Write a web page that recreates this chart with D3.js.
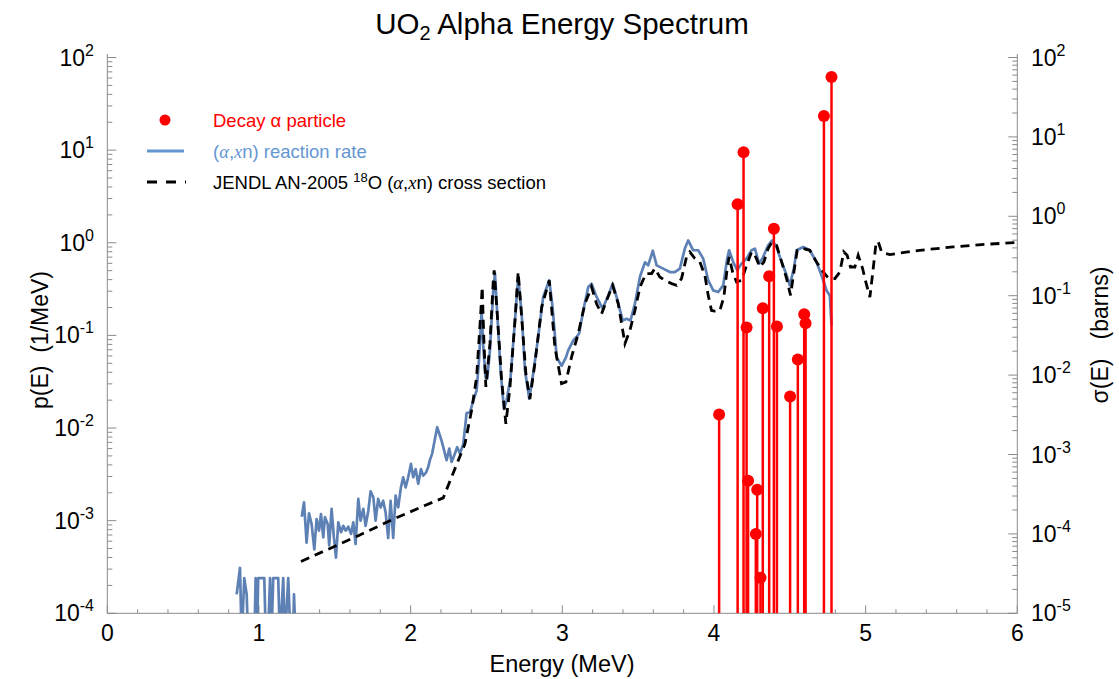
<!DOCTYPE html>
<html>
<head>
<meta charset="utf-8">
<script src="https://cdn.jsdelivr.net/npm/d3@7"></script>
<style>
body { margin: 0; background: #fff; }
text { font-family: "Liberation Sans", Arial, sans-serif; }
</style>
</head>
<body>
<div class="spectrum"></div>
<script>
// decay alpha lines (MeV, 1/MeV)
var alphaE = [4.034, 4.156, 4.195, 4.215, 4.225, 4.276, 4.285, 4.307, 4.322, 4.364,
              4.395, 4.415, 4.502, 4.553, 4.595, 4.604, 4.725, 4.775];
var alphaP = [0.014, 2.6, 9.5, 0.122, 0.0027, 0.00072, 0.00216, 0.000242, 0.196, 0.435,
              1.42, 0.125, 0.0219, 0.055, 0.169, 0.135, 23.3, 61.5];

// (a,xn) reaction rate, low-statistics part below 1.25 MeV
var rateLowE = [0.853, 0.875, 0.886, 0.903, 0.919, 0.929, 0.970, 0.978, 0.987, 0.995,
                1.035, 1.046, 1.059, 1.073, 1.082, 1.094, 1.127, 1.138, 1.160, 1.171,
                1.193, 1.209, 1.224, 1.231, 1.242];
var rateLowP = [1.6e-4, 3.1e-4, 5e-5, 2.4e-4, 1.6e-4, 5e-5, 5e-5, 2.4e-4, 5e-5, 2.4e-4,
                2.4e-4, 5e-5, 5e-5, 2.4e-4, 5e-5, 2.4e-4, 2.4e-4, 5e-5, 2.4e-4, 5e-5,
                2.4e-4, 5e-5, 5e-5, 1.6e-4, 5e-5];

// (a,xn) reaction rate, main part
var rateE = [1.282, 1.297, 1.314, 1.330, 1.347, 1.365, 1.380, 1.396, 1.409, 1.424,
             1.435, 1.453, 1.463, 1.479, 1.494, 1.508, 1.523, 1.541, 1.556, 1.572,
             1.589, 1.607, 1.622, 1.637, 1.655, 1.670, 1.688, 1.703, 1.721, 1.736,
             1.754, 1.769, 1.786, 1.802, 1.819, 1.835, 1.852, 1.868, 1.885, 1.901,
             1.918, 1.936, 1.951, 1.967, 1.984, 2.002, 2.017, 2.033, 2.050, 2.068,
             2.083, 2.101, 2.116, 2.127, 2.142, 2.175, 2.204, 2.237, 2.255, 2.270,
             2.292, 2.307, 2.325, 2.347, 2.369, 2.391, 2.413, 2.435, 2.452, 2.468,
             2.479, 2.494, 2.505, 2.523, 2.545, 2.556, 2.571, 2.593, 2.615, 2.633,
             2.659, 2.688, 2.709, 2.732, 2.754, 2.782, 2.808, 2.841, 2.874, 2.914,
             2.936, 2.963, 2.995, 3.024, 3.039, 3.072, 3.094, 3.111, 3.138, 3.171,
             3.193, 3.226, 3.266, 3.303, 3.332, 3.358, 3.398, 3.424, 3.450, 3.479,
             3.512, 3.545, 3.566, 3.597, 3.622, 3.665, 3.709, 3.742, 3.775, 3.808,
             3.830, 3.863, 3.896, 3.929, 3.962, 3.995, 4.028, 4.061, 4.087, 4.100,
             4.127, 4.153, 4.182, 4.215, 4.248, 4.270, 4.298, 4.324, 4.357, 4.384,
             4.413, 4.435, 4.479, 4.500, 4.527, 4.545, 4.588, 4.632, 4.676, 4.709,
             4.742, 4.764, 4.775];
var rateP = [1.10e-3, 1.58e-3, 5.8e-4, 1.20e-3, 9.2e-4, 4.9e-4, 1.04e-3, 7.8e-4, 1.18e-3, 6.6e-4,
             1.09e-3, 9.2e-4, 5.4e-4, 1.34e-3, 6.6e-4, 4.0e-4, 9.6e-4, 7.5e-4, 8.8e-4, 7.8e-4,
             8.6e-4, 7.2e-4, 9.6e-4, 5.6e-4, 1.72e-3, 1.0e-3, 1.34e-3, 8.8e-4, 1.28e-3, 2.07e-3,
             1.79e-3, 1.0e-3, 1.72e-3, 1.39e-3, 1.64e-3, 1.23e-3, 6.5e-4, 1.64e-3, 6.5e-4, 1.86e-3,
             1.39e-3, 2.29e-3, 2.94e-3, 2.29e-3, 2.94e-3, 4.1e-3, 2.94e-3, 3.6e-3, 2.5e-3, 3.6e-3,
             3.06e-3, 3.3e-3, 3.8e-3, 4.5e-3, 5.3e-3, 1.02e-2, 7.3e-3, 4.5e-3, 6.0e-3, 4.3e-3,
             5.3e-3, 6.2e-3, 5.3e-3, 6.7e-3, 1.45e-2, 1.48e-2, 1.98e-2, 2.54e-2, 5.8e-2, 0.186,
             7.5e-2, 3.54e-2, 3.4e-2, 6.9e-2, 0.306, 0.465, 0.172, 4.2e-2, 1.61e-2, 1.98e-2,
             3.54e-2, 0.145, 0.427, 0.172, 4.2e-2, 2.07e-2, 3.86e-2, 9.6e-2, 0.26, 0.394,
             0.202, 5.8e-2, 4.7e-2, 5.8e-2, 6.9e-2, 8.8e-2, 9.6e-2, 0.105, 0.186, 0.333,
             0.362, 0.26, 0.195, 0.27, 0.362, 0.26, 0.145, 0.151, 0.145, 0.22,
             0.43, 0.615, 0.57, 0.82, 0.57, 0.526, 0.483, 0.483, 0.526, 0.865,
             1.06, 0.83, 0.83, 0.675, 0.394, 0.306, 0.294, 0.347, 0.675, 0.83,
             0.62, 0.505, 0.596, 0.675, 0.83, 0.865, 0.596, 0.70, 0.94, 1.06,
             0.90, 0.70, 0.446, 0.347, 0.53, 0.83, 0.90, 0.83, 0.62, 0.446,
             0.306, 0.27, 0.128];

// JENDL AN-2005 18O (a,xn) cross section (MeV, barns)
var xsE = [1.277, 1.479, 1.655, 1.875, 2.094, 2.215, 2.270, 2.314, 2.358, 2.402,
           2.435, 2.462, 2.472, 2.483, 2.496, 2.523, 2.545, 2.551, 2.571, 2.600,
           2.628, 2.655, 2.688, 2.709, 2.732, 2.760, 2.786, 2.819, 2.864, 2.914,
           2.951, 2.995, 3.024, 3.061, 3.105, 3.149, 3.193, 3.226, 3.259, 3.292,
           3.332, 3.369, 3.413, 3.446, 3.479, 3.512, 3.551, 3.589, 3.610, 3.643,
           3.676, 3.721, 3.754, 3.786, 3.819, 3.841, 3.874, 3.907, 3.940, 3.962,
           3.984, 4.006, 4.039, 4.065, 4.087, 4.100, 4.123, 4.149, 4.182, 4.215,
           4.248, 4.270, 4.303, 4.329, 4.357, 4.384, 4.413, 4.446, 4.479, 4.505,
           4.527, 4.549, 4.588, 4.632, 4.676, 4.720, 4.753, 4.797, 4.830, 4.856,
           4.878, 4.900, 4.929, 4.951, 4.980, 5.001, 5.028, 5.050, 5.067, 5.082,
           5.105, 5.127, 5.160, 5.357, 5.577, 5.797, 6.0];
var xsS = [4.5e-5, 6.7e-5, 9.5e-5, 1.50e-4, 2.28e-4, 2.84e-4, 5.2e-4, 8.4e-4, 1.36e-3, 3.6e-3,
           9.4e-3, 5.9e-2, 0.129, 2.74e-2, 7.1e-3, 2.49e-2, 0.156, 0.209, 5.9e-2, 8.6e-3,
           2.44e-3, 7.1e-3, 4.9e-2, 0.199, 5.4e-2, 1.04e-2, 5.0e-3, 1.39e-2, 7.2e-2, 0.156,
           2.26e-2, 7.8e-3, 8.2e-3, 1.69e-2, 3.33e-2, 7.9e-2, 0.129, 7.9e-2, 5.9e-2, 8.7e-2,
           0.135, 7.9e-2, 2.49e-2, 3.66e-2, 6.5e-2, 0.128, 0.19, 0.19, 0.22, 0.172,
           0.156, 0.142, 0.135, 0.164, 0.308, 0.356, 0.294, 0.266, 0.181, 0.101,
           6.5e-2, 6.4e-2, 6.5e-2, 9.6e-2, 0.22, 0.308, 0.199, 0.149, 0.156, 0.241,
           0.356, 0.323, 0.23, 0.266, 0.393, 0.475, 0.432, 0.266, 0.164, 0.101,
           0.199, 0.373, 0.393, 0.373, 0.266, 0.199, 0.168, 0.164, 0.199, 0.356,
           0.323, 0.23, 0.23, 0.323, 0.22, 0.149, 0.096, 0.22, 0.432, 0.485,
           0.356, 0.34, 0.33, 0.373, 0.411, 0.445, 0.468];

var xTicks = [0, 1, 2, 3, 4, 5, 6];

var width = 1119, height = 679;
var plotLeft = 107.3, plotRight = 1017.3, plotTop = 57.5, plotBottom = 613.3;

var x = d3.scaleLinear().domain([0, 6]).range([plotLeft, plotRight]);
var yL = d3.scaleLog().domain([1e-4, 1e2]).range([plotBottom, plotTop]);
var yR = d3.scaleLog().domain([1e-5, 1e2]).range([plotBottom, plotTop]);

var svg = d3.select(".spectrum").append("svg")
    .attr("width", width)
    .attr("height", height);

svg.append("defs").append("clipPath").attr("id", "plotclip")
    .append("rect")
    .attr("x", plotLeft).attr("y", 50)
    .attr("width", plotRight - plotLeft).attr("height", plotBottom - 50);

var axisColor = "#8a8a8a";
var ax = svg.append("g").attr("stroke", axisColor).attr("stroke-width", 1);

ax.append("line").attr("x1", plotLeft).attr("x2", plotLeft).attr("y1", plotBottom).attr("y2", 54);
ax.append("line").attr("x1", plotRight).attr("x2", plotRight).attr("y1", plotBottom).attr("y2", 54);
ax.append("line").attr("x1", plotLeft).attr("x2", plotRight).attr("y1", plotBottom).attr("y2", plotBottom);

function isDecade(v) {
    var l = Math.log10(v);
    return Math.abs(l - Math.round(l)) < 1e-9;
}

// left log ticks (inward)
ax.selectAll(".tl").data(yL.ticks()).enter().append("line")
    .attr("x1", plotLeft).attr("x2", d => plotLeft + (isDecade(d) ? 9 : 5))
    .attr("y1", d => yL(d)).attr("y2", d => yL(d));
// right log ticks (inward)
ax.selectAll(".tr").data(yR.ticks()).enter().append("line")
    .attr("x1", plotRight).attr("x2", d => plotRight - (isDecade(d) ? 9 : 5))
    .attr("y1", d => yR(d)).attr("y2", d => yR(d));
// bottom ticks
ax.selectAll(".tb").data(d3.range(0, 30.5).map(i => i / 5)).enter().append("line")
    .attr("x1", d => x(d)).attr("x2", d => x(d))
    .attr("y1", plotBottom).attr("y2", (d, i) => plotBottom - (i % 5 === 0 ? 8 : 4));

function powLabel(sel, v) {
    sel.append("tspan").text("10");
    sel.append("tspan").attr("dy", -10).attr("font-size", 16)
        .text(String(Math.round(Math.log10(v))));
}

yL.ticks().filter(isDecade).forEach(function (v) {
    var t = svg.append("text").attr("x", 94).attr("y", yL(v) + 8)
        .attr("text-anchor", "end").attr("font-size", 23).attr("fill", "#000");
    powLabel(t, v);
});
yR.ticks().filter(isDecade).forEach(function (v) {
    var t = svg.append("text").attr("x", 1031).attr("y", yR(v) + 8)
        .attr("text-anchor", "start").attr("font-size", 23).attr("fill", "#000");
    powLabel(t, v);
});
svg.selectAll(".xl").data(xTicks).enter().append("text")
    .attr("x", d => x(d)).attr("y", 641)
    .attr("text-anchor", "middle").attr("font-size", 23)
    .text(d => d);

// titles
var title = svg.append("text").attr("x", 562).attr("y", 34)
    .attr("text-anchor", "middle").attr("font-size", 29.5);
title.append("tspan").text("UO");
title.append("tspan").attr("dy", 6).attr("font-size", 20).text("2");
title.append("tspan").attr("dy", -6).text(" Alpha Energy Spectrum");

svg.append("text").attr("x", 562).attr("y", 672)
    .attr("text-anchor", "middle").attr("font-size", 23.5).text("Energy (MeV)");
svg.append("text").attr("transform", "translate(48,340) rotate(-90)")
    .attr("text-anchor", "middle").attr("font-size", 23).text("p(E)\u00a0\u00a0(1/MeV)");
svg.append("text").attr("transform", "translate(1108,335) rotate(-90)")
    .attr("text-anchor", "middle").attr("font-size", 23).text("\u03c3(E)\u00a0\u00a0\u00a0(barns)");

// data
var plot = svg.append("g").attr("clip-path", "url(#plotclip)");

var lineL = d3.line().x(d => x(d[0])).y(d => yL(d[1]));
var lineR = d3.line().x(d => x(d[0])).y(d => yR(d[1]));

var blue = "#5e81b5";

plot.append("path")
    .datum(d3.zip(rateLowE, rateLowP))
    .attr("d", lineL).attr("fill", "none")
    .attr("stroke", blue).attr("stroke-width", 2.7).attr("stroke-linejoin", "round");

plot.append("path")
    .datum(d3.zip(rateE, rateP))
    .attr("d", lineL).attr("fill", "none")
    .attr("stroke", blue).attr("stroke-width", 2.7).attr("stroke-linejoin", "round");

plot.append("path")
    .datum(d3.zip(xsE, xsS))
    .attr("d", lineR).attr("fill", "none")
    .attr("stroke", "#000").attr("stroke-width", 2.8)
    .attr("stroke-dasharray", "9,6");

var alpha = d3.zip(alphaE, alphaP);
plot.selectAll(".stem").data(alpha).enter().append("line")
    .attr("x1", d => x(d[0])).attr("x2", d => x(d[0]))
    .attr("y1", yL(1e-4)).attr("y2", d => yL(d[1]))
    .attr("stroke", "#ff0000").attr("stroke-width", 2.5);
plot.selectAll(".dot").data(alpha).enter().append("circle")
    .attr("cx", d => x(d[0])).attr("cy", d => yL(d[1]))
    .attr("r", 6).attr("fill", "#ff0000");

// legend
var lg = svg.append("g");
lg.append("circle").attr("cx", 165).attr("cy", 120).attr("r", 5.5).attr("fill", "#ff0000");
lg.append("text").attr("x", 213).attr("y", 127).attr("font-size", 18.5).attr("fill", "#ff0000")
    .text("Decay \u03b1 particle");

lg.append("line").attr("x1", 147).attr("x2", 184).attr("y1", 151).attr("y2", 151)
    .attr("stroke", "#6496d2").attr("stroke-width", 3);
var t2 = lg.append("text").attr("x", 213).attr("y", 158).attr("font-size", 18.5).attr("fill", "#6496d2");
t2.append("tspan").text("(");
t2.append("tspan").attr("font-family", "Liberation Serif").attr("font-style", "italic").text("\u03b1");
t2.append("tspan").text(",");
t2.append("tspan").attr("font-family", "Liberation Serif").attr("font-style", "italic").text("x");
t2.append("tspan").text("n) reaction rate");

lg.append("line").attr("x1", 147).attr("x2", 186).attr("y1", 182).attr("y2", 182)
    .attr("stroke", "#000").attr("stroke-width", 3).attr("stroke-dasharray", "10,9");
var t3 = lg.append("text").attr("x", 213).attr("y", 189).attr("font-size", 18.5).attr("fill", "#000");
t3.append("tspan").text("JENDL AN-2005 ");
t3.append("tspan").attr("dy", -7).attr("font-size", 13).text("18");
t3.append("tspan").attr("dy", 7).text("O (");
t3.append("tspan").attr("font-family", "Liberation Serif").attr("font-style", "italic").text("\u03b1");
t3.append("tspan").text(",");
t3.append("tspan").attr("font-family", "Liberation Serif").attr("font-style", "italic").text("x");
t3.append("tspan").text("n) cross section");
</script>
</body>
</html>
